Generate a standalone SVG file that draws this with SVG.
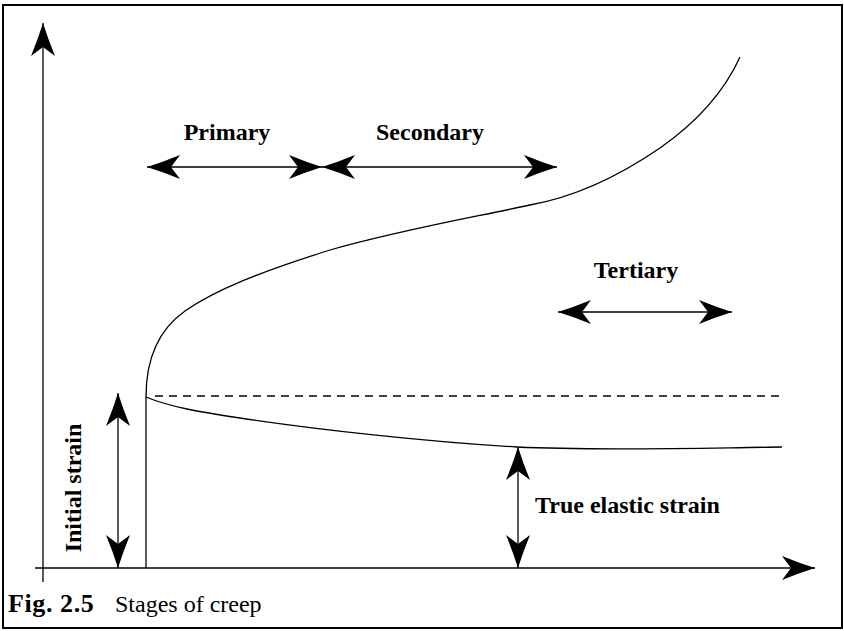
<svg xmlns="http://www.w3.org/2000/svg" width="844" height="631" viewBox="0 0 844 631">
<style>
.ln{fill:none;stroke:#000;stroke-width:1.3}
.ar{fill:none;stroke:#000;stroke-width:1.3;marker-end:url(#ah)}
.dar{fill:none;stroke:#000;stroke-width:1.3;marker-start:url(#ah);marker-end:url(#ah)}
.lbl{font-family:"Liberation Serif","Times New Roman",serif;font-weight:bold;font-size:24px;fill:#000}
.cap{font-family:"Liberation Serif","Times New Roman",serif;font-size:24px;fill:#000}
</style>
<defs>
<marker id="ah" markerUnits="userSpaceOnUse" markerWidth="40" markerHeight="30" viewBox="-36 -15 40 30" refX="0" refY="0" orient="auto-start-reverse">
<path d="M0,0 Q-16,-5 -33,-12 L-24,0 L-33,12 Q-16,5 0,0 Z" fill="#000"/>
</marker>
</defs>
<rect x="3" y="5" width="839" height="623" fill="#fff" stroke="#000" stroke-width="2"/>
<g id="connectors">
<path id="y-axis" class="ar" d="M43,582 L43,23"/>
<path id="x-axis" class="ar" d="M35,568 L815,568"/>
<path id="initial-line" class="ln" d="M146,568 L146,397"/>
<path id="creep-curve" class="ln" d="M146,397 C146,360 158,330 185,311 C215,290 260,272 330,250 C400,230 470,218 530,205 C580,196 625,172 660,148 C700,120 725,90 740,57"/>
<path id="elastic-curve" class="ln" d="M146,397 C170,407 200,412 240,418 C320,430 430,442 517,447 C600,451 700,448 782,447"/>
<path id="dashed" class="ln" stroke-dasharray="8,6" d="M155,396 L780,396"/>
<path id="primary-arrow" class="dar" d="M147,167 L322,167"/>
<path id="secondary-arrow" class="dar" d="M322,167 L557,167"/>
<path id="tertiary-arrow" class="dar" d="M558,312 L732,312"/>
<path id="initial-arrow" class="dar" d="M118,393 L118,568"/>
<path id="elastic-arrow" class="dar" d="M518,447 L518,568"/>
</g>
<g id="primary"><text class="lbl" x="227" y="140" text-anchor="middle">Primary</text></g>
<g id="secondary"><text class="lbl" x="430" y="140" text-anchor="middle">Secondary</text></g>
<g id="tertiary"><text class="lbl" x="636" y="278" text-anchor="middle">Tertiary</text></g>
<g id="true-elastic"><text class="lbl" x="535" y="513">True elastic strain</text></g>
<g id="initial"><text class="lbl" transform="translate(81,488) rotate(-90)" text-anchor="middle">Initial strain</text></g>
<g id="caption"><text class="cap" x="8" y="612"><tspan font-weight="bold" font-size="26" letter-spacing="0.6">Fig. 2.5</tspan><tspan x="115">Stages of creep</tspan></text></g>
</svg>
